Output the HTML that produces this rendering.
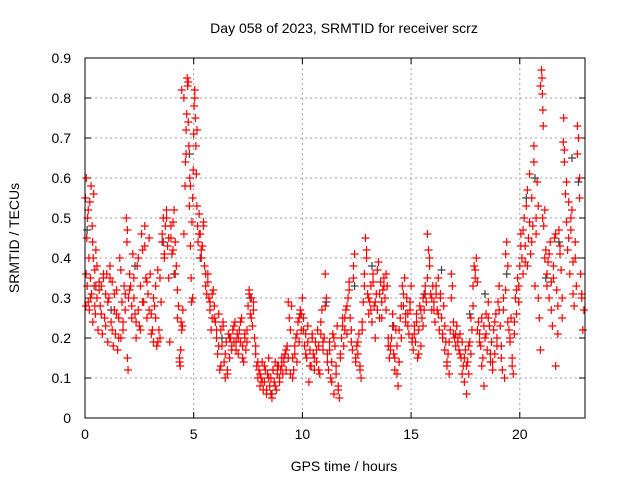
<!DOCTYPE html>
<html><head><meta charset="utf-8"><style>
html,body{margin:0;padding:0;background:#fff;}
svg text{font-family:"Liberation Sans",sans-serif;font-size:14px;fill:#000;}
</style></head><body>
<svg id="chart" width="640" height="480" xmlns="http://www.w3.org/2000/svg">
<rect width="640" height="480" fill="#fff"/>
<text x="344" y="33" text-anchor="middle">Day 058 of 2023, SRMTID for receiver scrz</text>
<text x="344" y="471" text-anchor="middle">GPS time / hours</text>
<text transform="translate(19,238) rotate(-90)" text-anchor="middle">SRMTID / TECUs</text>
<g id="grid"></g>
<g id="ticks"></g>
<g id="gray"></g>
<g id="red"></g>
<rect x="85" y="58" width="500" height="360" fill="none" stroke="#000" stroke-width="1"/>
</svg>
<script>
const xTicks=[0,5,10,15,20];
const yTicks=[0,0.1,0.2,0.3,0.4,0.5,0.6,0.7,0.8,0.9];
const yTickLabels=["0","0.1","0.2","0.3","0.4","0.5","0.6","0.7","0.8","0.9"];
const hours=[0.02,0.04,0.06,0.08,0.1,0.12,0.15,0.18,0.2,0.22,0.25,0.28,0.3,0.33,0.36,0.38,0.4,0.42,0.45,0.48,0.5,0.55,0.6,0.65,0.7,0.75,0.8,0.85,0.9,0.95,
1.0,1.05,1.1,1.15,1.2,1.25,1.3,1.35,1.4,1.45,1.5,1.55,1.6,1.65,1.7,1.75,1.8,1.85,1.9,1.93,1.95,1.98,2.0,
2.05,2.1,2.15,2.2,2.25,2.3,2.35,2.4,2.45,2.5,2.55,2.6,2.65,2.7,2.75,2.8,2.85,2.9,2.95,3.0,
3.05,3.1,3.15,3.2,3.25,3.3,3.35,3.4,3.45,3.5,3.55,3.6,3.65,3.7,3.75,3.8,3.85,3.9,3.95,4.0,4.05,4.1,4.15,4.2,4.25,4.3,
4.35,4.38,4.4,4.42,4.45,4.48,4.5,4.55,4.6,4.62,4.65,4.68,4.7,4.72,4.75,4.78,4.8,4.82,4.85,4.88,4.9,4.92,4.95,4.98,5.0,5.02,5.05,5.08,5.1,5.12,5.15,5.18,5.2,5.25,5.3,5.35,5.4,5.45,5.5,
5.55,5.6,5.65,5.7,5.75,5.8,5.85,5.9,5.95,6.0,
6.05,6.1,6.15,6.2,6.25,6.3,6.35,6.4,6.45,6.5,6.55,6.6,6.65,6.7,6.75,6.8,6.85,6.9,6.95,7.0,
7.05,7.1,7.15,7.2,7.25,7.3,7.35,7.4,7.45,7.5,7.55,7.6,7.65,7.7,7.75,7.8,7.85,7.9,7.95,8.0,
8.05,8.1,8.15,8.2,8.25,8.3,8.35,8.4,8.45,8.5,8.55,8.6,8.65,8.7,8.75,8.8,8.85,8.9,8.95,9.0,
9.05,9.1,9.15,9.2,9.25,9.3,9.35,9.4,9.45,9.5,9.55,9.6,9.65,9.7,9.75,9.8,9.85,9.9,9.95,10.0,
10.05,10.1,10.15,10.2,10.25,10.3,10.35,10.4,10.45,10.5,10.55,10.6,10.65,10.7,10.75,10.8,10.85,10.9,10.95,11.0,
11.05,11.1,11.15,11.2,11.25,11.3,11.35,11.4,11.45,11.5,11.55,11.6,11.65,11.7,11.75,11.8,11.85,11.9,11.95,12.0,
12.05,12.1,12.15,12.2,12.25,12.3,12.35,12.4,12.45,12.5,12.55,12.6,12.65,12.7,12.75,12.8,12.85,12.9,12.95,13.0,
13.05,13.1,13.15,13.2,13.25,13.3,13.35,13.4,13.45,13.5,13.55,13.6,13.65,13.7,13.75,13.8,13.85,13.9,13.95,14.0,
14.05,14.1,14.15,14.2,14.25,14.3,14.35,14.4,14.45,14.5,14.55,14.6,14.65,14.7,14.75,14.8,14.85,14.9,14.95,15.0,
15.05,15.1,15.15,15.2,15.25,15.3,15.35,15.4,15.45,15.5,15.55,15.6,15.65,15.7,15.75,15.8,15.85,15.9,15.95,16.0,
16.05,16.1,16.15,16.2,16.25,16.3,16.35,16.4,16.45,16.5,16.55,16.6,16.65,16.7,16.75,16.8,16.85,16.9,16.95,17.0,
17.05,17.1,17.15,17.2,17.25,17.3,17.35,17.4,17.45,17.5,17.55,17.6,17.65,17.7,17.75,17.8,17.85,17.9,17.95,18.0,
18.05,18.1,18.15,18.2,18.25,18.3,18.35,18.4,18.45,18.5,18.55,18.6,18.65,18.7,18.75,18.8,18.85,18.9,18.95,19.0,
19.05,19.1,19.15,19.2,19.25,19.3,19.35,19.4,19.45,19.5,19.55,19.6,19.65,19.7,19.75,19.8,19.85,19.9,19.95,20.0,
20.05,20.1,20.15,20.2,20.25,20.3,20.35,20.4,20.45,20.5,20.55,20.6,20.65,20.7,20.75,20.8,20.85,20.9,20.95,21.0,
21.02,21.04,21.06,21.08,21.1,21.15,21.2,21.25,21.3,21.35,21.4,21.45,21.5,21.55,21.6,21.65,21.7,21.75,21.8,21.85,21.9,21.95,22.0,
22.02,22.05,22.1,22.15,22.2,22.25,22.3,22.35,22.4,22.45,22.5,22.55,22.6,22.65,22.7,22.75,22.8,22.85,22.9,22.95];
const srmtid=[.55,.28,.60,.45,.33,.50,.29,.40,.27,.54,.35,.58,.31,.48,.24,.40,.56,.33,.37,.26,.42,.30,.22,.34,.28,.33,.21,.36,.25,.31,
.36,.19,.30,.38,.24,.34,.18,.27,.21,.32,.17,.25,.40,.20,.29,.22,.33,.27,.50,.44,.15,.12,.30,
.36,.33,.25,.41,.30,.26,.20,.38,.27,.23,.33,.46,.42,.29,.48,.35,.25,.31,.45,.36,
.26,.22,.19,.28,.33,.18,.37,.22,.20,.29,.44,.50,.41,.48,.52,.43,.35,.19,.45,.41,.49,.52,.44,.38,.32,.28,
.15,.13,.17,.24,.82,.23,.27,.46,.58,.64,.72,.76,.85,.83,.74,.68,.53,.60,.43,.35,.29,.49,.55,.62,.71,.78,.82,.75,.68,.61,.53,.48,.44,.51,.46,.40,.43,.48,.38,
.33,.31,.36,.30,.27,.22,.25,.32,.28,.24,
.20,.16,.26,.12,.22,.18,.23,.14,.10,.19,.12,.21,.15,.20,.18,.22,.19,.24,.17,.21,
.16,.22,.19,.25,.18,.14,.20,.17,.22,.28,.32,.26,.30,.23,.27,.20,.16,.13,.10,.12,
.08,.10,.14,.07,.09,.12,.06,.11,.15,.08,.10,.05,.12,.09,.14,.07,.11,.13,.09,.12,
.15,.11,.14,.16,.12,.18,.15,.25,.22,.28,.10,.12,.16,.20,.14,.24,.19,.27,.22,.30,
.25,.18,.21,.15,.23,.09,.17,.13,.20,.16,.12,.19,.14,.22,.18,.11,.21,.27,.17,.20,
.36,.30,.16,.12,.19,.10,.14,.21,.06,.18,.13,.23,.08,.05,.15,.20,.25,.18,.22,.27,
.21,.30,.34,.25,.19,.17,.38,.41,.14,.18,.16,.21,.13,.10,.24,.29,.36,.45,.40,.31,
.26,.29,.33,.24,.36,.28,.20,.31,.27,.39,.25,.34,.29,.32,.35,.30,.27,.33,.18,.15,
.17,.20,.26,.16,.12,.22,.18,.08,.14,.25,.20,.33,.28,.35,.24,.30,.26,.21,.27,.33,
.20,.17,.23,.19,.26,.15,.22,.28,.18,.25,.30,.27,.33,.29,.46,.42,.38,.31,.27,.33,
.29,.24,.31,.27,.35,.22,.30,.25,.20,.28,.23,.19,.13,.16,.11,.22,.36,.33,.24,.20,
.18,.23,.20,.17,.21,.15,.19,.13,.09,.17,.06,.14,.11,.19,.16,.22,.28,.38,.35,.40,
.34,.24,.21,.18,.25,.15,.08,.20,.26,.17,.29,.23,.14,.19,.12,.22,.16,.26,.20,.29,
.33,.23,.18,.12,.27,.10,.32,.44,.38,.22,.19,.25,.15,.11,.21,.30,.26,.35,.29,.38,
.46,.40,.36,.50,.43,.53,.38,.45,.61,.41,.55,.48,.68,.33,.46,.59,.53,.25,.17,.87,
.85,.81,.77,.73,.48,.52,.42,.36,.39,.30,.44,.34,.23,.38,.45,.13,.32,.28,.47,.41,.37,.25,.69,
.75,.64,.56,.49,.42,.54,.36,.47,.52,.31,.28,.40,.33,.73,.70,.60,.36,.30,.22,.27];
const hours2=[0.05,0.15,0.25,0.35,0.45,0.55,0.65,0.75,0.85,0.95,
1.05,1.15,1.25,1.35,1.45,1.55,1.65,1.75,1.85,1.95,
2.05,2.15,2.25,2.35,2.45,2.55,2.65,2.75,2.85,2.95,
3.05,3.15,3.25,3.35,3.45,3.55,3.65,3.75,3.85,3.95,
4.05,4.15,4.25,4.35,4.45,4.55,4.65,4.75,4.85,4.95,
5.05,5.15,5.25,5.35,5.45,5.55,5.65,5.75,5.85,5.95,
6.05,6.15,6.25,6.35,6.45,6.55,6.65,6.75,6.85,6.95,
7.05,7.15,7.25,7.35,7.45,7.55,7.65,7.75,7.85,7.95,
8.05,8.15,8.25,8.35,8.45,8.55,8.65,8.75,8.85,8.95,
9.05,9.15,9.25,9.35,9.45,9.55,9.65,9.75,9.85,9.95,
10.05,10.15,10.25,10.35,10.45,10.55,10.65,10.75,10.85,10.95,
11.05,11.15,11.25,11.35,11.45,11.55,11.65,11.75,11.85,11.95,
12.05,12.15,12.25,12.35,12.45,12.55,12.65,12.75,12.85,12.95,
13.05,13.15,13.25,13.35,13.45,13.55,13.65,13.75,13.85,13.95,
14.05,14.15,14.25,14.35,14.45,14.55,14.65,14.75,14.85,14.95,
15.05,15.15,15.25,15.35,15.45,15.55,15.65,15.75,15.85,15.95,
16.05,16.15,16.25,16.35,16.45,16.55,16.65,16.75,16.85,16.95,
17.05,17.15,17.25,17.35,17.45,17.55,17.65,17.75,17.85,17.95,
18.05,18.15,18.25,18.35,18.45,18.55,18.65,18.75,18.85,18.95,
19.05,19.15,19.25,19.35,19.45,19.55,19.65,19.75,19.85,19.95,
20.05,20.15,20.25,20.35,20.45,20.55,20.65,20.75,20.85,20.95,
21.05,21.15,21.25,21.35,21.45,21.55,21.65,21.75,21.85,21.95,
22.05,22.15,22.25,22.35,22.45,22.55,22.65,22.75,22.85];
const srmtid2=[.36,.52,.30,.44,.28,.38,.32,.26,.35,.23,
.29,.35,.22,.31,.26,.20,.37,.24,.31,.47,
.32,.28,.35,.24,.40,.22,.29,.43,.34,.27,
.21,.30,.25,.19,.35,.46,.40,.50,.45,.48,
.42,.36,.25,.14,.22,.80,.66,.84,.58,.30,
.80,.72,.46,.42,.49,.36,.34,.29,.31,.25,
.22,.18,.13,.24,.16,.11,.20,.17,.23,.19,
.20,.24,.15,.21,.19,.31,.25,.29,.18,.14,
.11,.09,.13,.07,.10,.06,.12,.08,.13,.10,
.13,.15,.17,.29,.11,.15,.18,.21,.25,.26,
.22,.16,.19,.13,.21,.15,.17,.12,.24,.19,
.28,.14,.17,.09,.20,.11,.07,.16,.23,.25,
.28,.32,.22,.35,.15,.19,.12,.22,.33,.42,
.30,.27,.34,.29,.37,.31,.25,.33,.36,.20,
.18,.23,.15,.11,.22,.28,.31,.26,.23,.29,
.19,.21,.24,.16,.27,.23,.31,.35,.40,.30,
.27,.33,.26,.31,.21,.17,.14,.19,.30,.21,
.21,.19,.16,.11,.15,.13,.18,.25,.33,.37,
.22,.19,.13,.23,.21,.25,.16,.14,.24,.18,
.27,.15,.30,.41,.24,.20,.13,.24,.32,.33,
.43,.47,.39,.57,.49,.44,.64,.50,.30,.83,
.50,.40,.33,.41,.27,.35,.46,.21,.43,.30,
.67,.59,.45,.50,.39,.44,.66,.55,.31];
const grayHours=[0.1,0.5,1.2,2.3,3.6,4.1,4.8,5.3,6.3,7.6,8.6,9.9,11.1,12.4,13.2,14.2,15.6,16.4,17.7,18.4,19.4,20.3,20.7,21.2,21.8,22.4,22.7];
const grayVals=[.47,.33,.27,.38,.44,.36,.66,.40,.20,.30,.06,.26,.29,.33,.38,.23,.31,.37,.26,.31,.36,.55,.60,.35,.44,.65,.59];

const X0=85,X1=585,XMAX=23,Y0=418,Y1=58,YMAX=0.9;
function sx(v){return X0+(X1-X0)*v/XMAX;}
function sy(v){return Y0-(Y0-Y1)*v/YMAX;}
const NS="http://www.w3.org/2000/svg";
const grid=document.getElementById('grid'),ticks=document.getElementById('ticks');
function mk(tag,attrs,parent){const e=document.createElementNS(NS,tag);for(const k in attrs)e.setAttribute(k,attrs[k]);parent.appendChild(e);return e;}
xTicks.forEach(function(t,i){
  const x=sx(t);
  if(t>0){const g=mk('line',{x1:x,x2:x,y1:Y1,y2:Y0,stroke:'#a0a0a0','stroke-dasharray':'2,3','stroke-width':1},grid);
  
  }
  mk('line',{x1:x,x2:x,y1:Y0,y2:Y0-6,stroke:'#000'},ticks);
  mk('line',{x1:x,x2:x,y1:Y1,y2:Y1+6,stroke:'#000'},ticks);
  const l=mk('text',{x:x,y:Y0+21,'text-anchor':'middle'},ticks);l.textContent=String(t);
  
  
});
yTicks.forEach(function(t,i){
  const y=sy(t);
  if(t>0&&t<0.9){const g=mk('line',{x1:X0,x2:X1,y1:y,y2:y,stroke:'#a0a0a0','stroke-dasharray':'2,3','stroke-width':1},grid);
  
  }
  mk('line',{x1:X0,x2:X0+6,y1:y,y2:y,stroke:'#000'},ticks);
  mk('line',{x1:X1,x2:X1-6,y1:y,y2:y,stroke:'#000'},ticks);
  const l=mk('text',{x:X0-14,y:y+5,'text-anchor':'end'},ticks);l.textContent=yTickLabels[i];
  
  
});
function plus(xs,ys,color,parent,name){
  let d='';
  for(let i=0;i<xs.length;i++){const x=sx(xs[i]),y=sy(ys[i]);d+='M'+(x-4)+' '+y+'h8M'+x+' '+(y-4)+'v8';}
  const p=mk('path',{d:d,stroke:color,'stroke-width':1.2,fill:'none'},parent);
  
  
}
plus(grayHours,grayVals,'#404040',document.getElementById('gray'),'gray-points');
plus(hours,srmtid,'#ff0000',document.getElementById('red'),'red-points');
plus(hours2,srmtid2,'#ff0000',document.getElementById('red'),'red-points-2');
</script>
</body></html>
